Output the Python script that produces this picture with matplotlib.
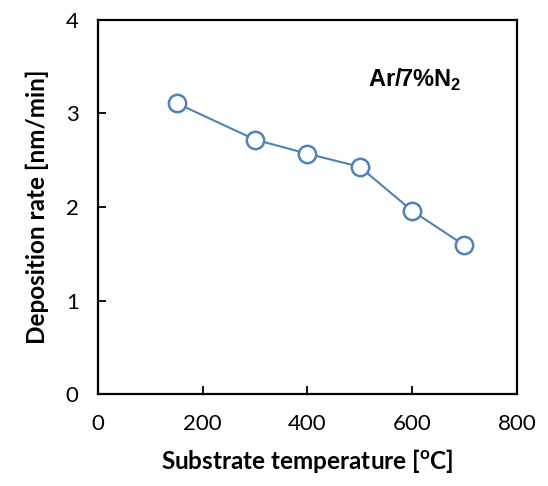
import matplotlib.pyplot as plt

# substrate temperature (C) vs deposition rate (nm/min)
temps = [150, 300, 400, 500, 600, 700]
rates = [3.11, 2.72, 2.57, 2.43, 1.96, 1.59]

xticks = [0, 200, 400, 600, 800]
yticks = [0, 1, 2, 3, 4]

plt.rcParams['font.family'] = ['Lato', 'DejaVu Sans']
plt.rcParams['mathtext.fontset'] = 'custom'
plt.rcParams['mathtext.rm'] = 'Lato'

fig = plt.figure(figsize=(5.48, 4.86), dpi=100)
ax = fig.add_axes([0.179, 0.189, 0.764, 0.770])

ax.plot(temps, rates, color='#4F81BD', linewidth=1.5, marker='o',
        markersize=12.5, markerfacecolor='white', markeredgecolor='#4F81BD',
        markeredgewidth=1.8, zorder=3)

ax.set_xlim(0, 800)
ax.set_ylim(0, 4)
ax.set_xticks(xticks)
ax.set_yticks(yticks)
ax.tick_params(axis='both', direction='in', length=6, width=1.3, labelsize=16)
ax.tick_params(axis='x', pad=14)
ax.tick_params(axis='y', pad=14)
for s in ax.spines.values():
    s.set_linewidth(1.6)

ax.set_xlabel(r'Substrate temperature [$^\mathregular{o}$C]', fontsize=17.5,
              fontweight='bold', labelpad=10)
ax.set_ylabel('Deposition rate [nm/min]', fontsize=17.5, fontweight='bold',
              labelpad=12)

ax.text(0.645, 0.82, r'Ar/7%N$_\mathregular{2}$', transform=ax.transAxes,
        fontsize=17, fontweight='bold', family=['Liberation Sans'])

fig.savefig('out.png', dpi=100)
